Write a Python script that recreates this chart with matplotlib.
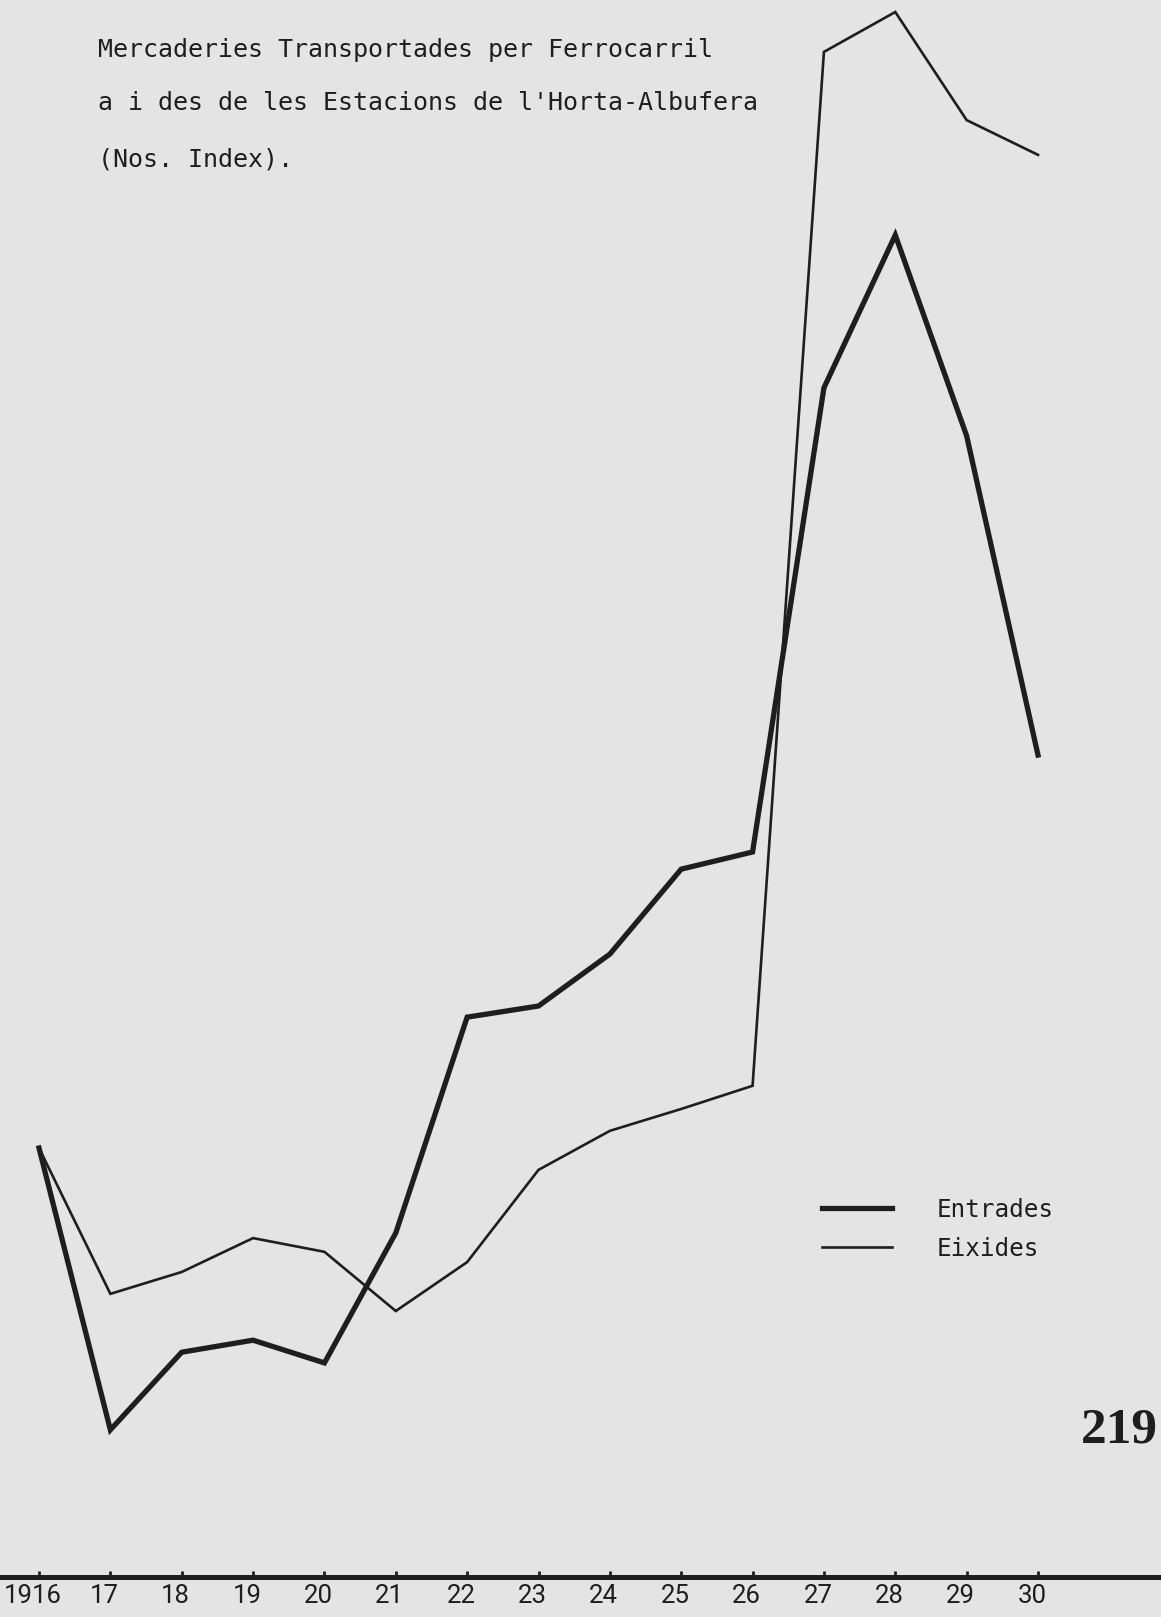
import numpy as np
import matplotlib.pyplot as plt
from matplotlib.transforms import ScaledTranslation

# Dades (Nos. Index, 1916 = 100)
anys = [1916, 1917, 1918, 1919, 1920, 1921, 1922, 1923,
        1924, 1925, 1926, 1927, 1928, 1929, 1930]
etiquetes = ['1916', '17', '18', '19', '20', '21', '22', '23',
             '24', '25', '26', '27', '28', '29', '30']
entrades = [100, 34.3, 52.4, 55.2, 49.9, 80.2, 130.5, 133.1,
            145.2, 165.0, 169.0, 277.2, 312.8, 266.0, 191.6]
eixides = [100, 66.0, 71.1, 79.0, 75.8, 62.0, 73.4, 94.9,
           104.0, 109.1, 114.5, 355.5, 364.8, 339.6, 331.5]
titol = ["Mercaderies Transportades per Ferrocarril",
         "a i des de les Estacions de l'Horta-Albufera",
         "(Nos. Index)."]

W, H = 1161, 1617
paper = '#e4e4e4'
ink = '#1e1e1e'

fig = plt.figure(figsize=(W / 100, H / 100), dpi=100, facecolor=paper)
ax = fig.add_axes([0, (H - 1577) / H, 1, 1577 / H], facecolor=paper)

ax.plot(anys, entrades, color=ink, lw=3.8, solid_joinstyle='miter', label='Entrades')
ax.plot(anys, eixides, color=ink, lw=1.9, solid_joinstyle='miter', label='Eixides')

# escala: 1916 a x=39 px, 1930 a x=1038 px
px_any = (1038 - 39) / 14
ax.set_xlim(1916 - 39 / px_any, 1916 + (W - 39) / px_any)
ax.set_ylim(0, 1577 / 4.29)

for s in ['top', 'left', 'right']:
    ax.spines[s].set_visible(False)
ax.spines['bottom'].set_linewidth(3.6)
ax.spines['bottom'].set_color(ink)
ax.set_yticks([])
ax.set_xticks(anys)
ax.set_xticklabels(etiquetes, family='Roboto', fontsize=18.5, color=ink)
ax.tick_params(axis='x', direction='in', length=4, width=2, color=ink, pad=5)
off = ScaledTranslation(-6 / 100, 0, fig.dpi_scale_trans)
for lab in ax.get_xticklabels():
    lab.set_transform(lab.get_transform() + off)

# títol
for txt, yy in zip(titol, [50, 103, 160]):
    fig.text(98 / W, 1 - yy / H, txt, family='DejaVu Sans Mono', fontsize=18,
             color=ink, va='center', ha='left')

# llegenda
ax.legend(loc='upper left', bbox_to_anchor=(822 / W, 1 - 1198 / H),
          bbox_transform=fig.transFigure, frameon=False,
          prop={'family': 'DejaVu Sans Mono', 'size': 17.5},
          handlelength=2.9, handletextpad=1.8, labelspacing=0.6,
          borderpad=0, borderaxespad=0, labelcolor=ink)

# número de pàgina
fig.text(1081 / W, 1 - 1430 / H, '219', family='Liberation Serif', fontweight='bold',
         fontsize=37, color=ink, va='center', ha='left')

fig.savefig('out.png', dpi=100, facecolor=paper)
